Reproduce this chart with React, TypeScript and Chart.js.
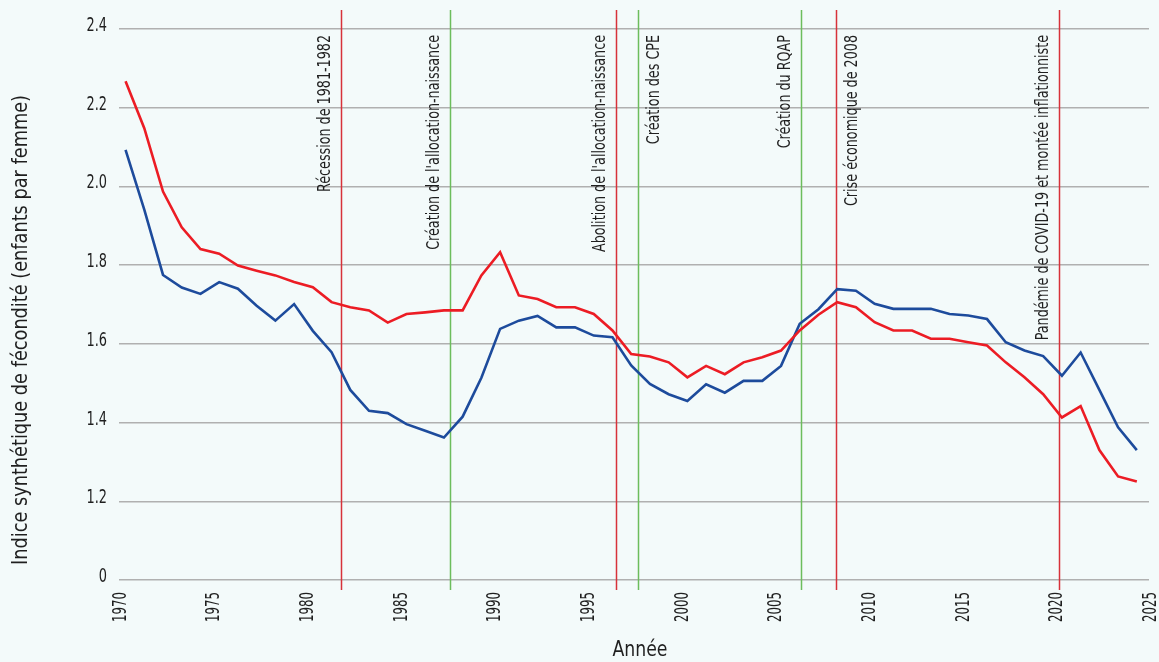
import React, { useEffect, useRef } from 'react';
import { Chart, registerables } from 'chart.js';

Chart.register(...registerables);

// ---- DATA ----
const years = [
  1970, 1971, 1972, 1973, 1974, 1975, 1976, 1977, 1978, 1979,
  1980, 1981, 1982, 1983, 1984, 1985, 1986, 1987, 1988, 1989,
  1990, 1991, 1992, 1993, 1994, 1995, 1996, 1997, 1998, 1999,
  2000, 2001, 2002, 2003, 2004, 2005, 2006, 2007, 2008, 2009,
  2010, 2011, 2012, 2013, 2014, 2015, 2016, 2017, 2018, 2019,
  2020, 2021, 2022, 2023, 2024,
];

const quebec = [
  2.093, 1.941, 1.775, 1.743, 1.727, 1.757, 1.740, 1.697, 1.659, 1.701,
  1.633, 1.579, 1.483, 1.430, 1.424, 1.396, 1.379, 1.362, 1.415, 1.514,
  1.638, 1.659, 1.671, 1.642, 1.642, 1.621, 1.617, 1.545, 1.498, 1.472,
  1.455, 1.497, 1.476, 1.506, 1.506, 1.544, 1.651, 1.688, 1.739, 1.735,
  1.702, 1.689, 1.689, 1.689, 1.676, 1.672, 1.663, 1.604, 1.583, 1.569,
  1.519, 1.578, 1.483, 1.388, 1.330,
];

const canada = [
  2.267, 2.148, 1.987, 1.896, 1.841, 1.829, 1.799, 1.786, 1.774, 1.757,
  1.744, 1.706, 1.693, 1.685, 1.654, 1.676, 1.680, 1.685, 1.685, 1.774,
  1.833, 1.723, 1.714, 1.693, 1.693, 1.676, 1.634, 1.574, 1.568, 1.553,
  1.515, 1.544, 1.523, 1.553, 1.566, 1.583, 1.634, 1.674, 1.706, 1.693,
  1.655, 1.634, 1.634, 1.613, 1.613, 1.604, 1.596, 1.553, 1.515, 1.472,
  1.413, 1.442, 1.330, 1.263, 1.250,
];

const xTickValues = [1970, 1975, 1980, 1985, 1990, 1995, 2000, 2005, 2010, 2015, 2020, 2025];
const yTickValues = [1.0, 1.2, 1.4, 1.6, 1.8, 2.0, 2.2, 2.4];
const yTickLabels = ['0', '1.2', '1.4', '1.6', '1.8', '2.0', '2.2', '2.4'];

const xTitle = 'Année';
const yTitle = 'Indice synthétique de fécondité (enfants par femme)';

const eventPositions = [1981.85, 1987.65, 1996.55, 1997.7, 2006.4, 2008.3, 2020.2];
const eventLabels = [
  'Récession de 1981-1982',
  "Création de l'allocation-naissance",
  "Abolition de l'allocation-naissance",
  'Création des CPE',
  'Création du RQAP',
  'Crise économique de 2008',
  'Pandémie de COVID-19 et montée inflationniste',
];
const eventKinds = ['crise', 'politique', 'crise', 'politique', 'politique', 'crise', 'crise'];

// ---- STYLE ----
const BG = '#f3fafa';
const TEXT = '#1f1f1f';
const RED = '#ec1c24';
const BLUE = '#1d4b9c';
const GRID = '#b0b0b0';
const EVENT_COLORS: Record<string, string> = { crise: '#d7323a', politique: '#6cbd5c' };
const EVENT_SIDES = ['left', 'left', 'left', 'right', 'left', 'right', 'left'];
const POINT_SHIFT = 0.35;
const CAP = 0.714; // cap-height ratio of Noto Sans

type FontFn = (size: number, weight?: number) => string;

// Condensed face selection (the reference uses a narrow grotesque).
function makeFontFn(): FontFn {
  const c = document.createElement('canvas').getContext('2d');
  const probe = 'Récession de 1981-1982';
  const options: FontFn[] = [
    (s, w = 400) => `${w} extra-condensed ${s}px 'Noto Sans', sans-serif`,
    (s, w = 400) => `${w} ${s}px 'Noto Sans ExtraCondensed', 'Noto Sans', sans-serif`,
    (s, w = 400) => `${w} condensed ${s}px 'Noto Sans', sans-serif`,
    (s, w = 400) => `${w} ${s}px 'DejaVu Sans Condensed', 'Noto Sans', sans-serif`,
  ];
  if (!c) return options[3];
  c.font = "40px 'Noto Sans', sans-serif";
  const normal = c.measureText(probe).width;
  for (const fn of options.slice(0, 3)) {
    c.font = fn(40);
    if (c.measureText(probe).width < normal * 0.85) return fn;
  }
  return options[3];
}

// Draws text, squeezed/stretched along its own direction so that `probe`
// at this size would be `probeLen` px long (matches the reference's face).
function drawFitted(
  ctx: CanvasRenderingContext2D,
  font: string,
  text: string,
  probe: string,
  probeLen: number,
  x: number,
  y: number,
  rotate: boolean,
  align: CanvasTextAlign,
) {
  ctx.save();
  ctx.font = font;
  const sx = probeLen / ctx.measureText(probe).width;
  ctx.translate(x, y);
  if (rotate) ctx.rotate(-Math.PI / 2);
  ctx.scale(sx, 1);
  ctx.textAlign = align;
  ctx.textBaseline = 'alphabetic';
  ctx.fillText(text, 0, 0);
  ctx.restore();
}

export default function App() {
  const canvasRef = useRef<HTMLCanvasElement | null>(null);

  useEffect(() => {
    document.body.style.margin = '0';
    document.body.style.background = BG;
    const canvas = canvasRef.current;
    if (!canvas) return;
    const font = makeFontFn();

    const overlayPlugin = {
      id: 'overlay',
      beforeDatasetsDraw(chart: any) {
        const { ctx, chartArea, scales } = chart;
        ctx.save();
        ctx.lineWidth = 1.5;
        eventPositions.forEach((pos, i) => {
          const x = Math.round(scales.x.getPixelForValue(pos)) + 0.5;
          ctx.strokeStyle = EVENT_COLORS[eventKinds[i]];
          ctx.beginPath();
          ctx.moveTo(x, chartArea.top - 19);
          ctx.lineTo(x, chartArea.bottom + 10);
          ctx.stroke();
        });
        ctx.restore();
      },
      afterDraw(chart: any) {
        const { ctx, chartArea, scales } = chart;
        ctx.save();
        ctx.fillStyle = TEXT;

        // y tick labels
        const ySize = 19;
        yTickValues.forEach((v, i) => {
          const y = scales.y.getPixelForValue(v) + 2;
          drawFitted(ctx, font(ySize, 500), yTickLabels[i], '2.4', 20.5, chartArea.left - 12, y, false, 'right');
        });

        // x tick labels (rotated, reading upward)
        const xSize = 19;
        xTickValues.forEach((v) => {
          const x = scales.x.getPixelForValue(v) + (xSize * CAP) / 2;
          drawFitted(ctx, font(xSize, 500), String(v), '1970', 30, x, chartArea.bottom + 12, true, 'right');
        });

        // axis titles
        drawFitted(ctx, font(21), xTitle, xTitle, 55, (chartArea.left + chartArea.right) / 2 + 6, 656, false, 'center');
        drawFitted(ctx, font(22), yTitle, yTitle, 470, 27, 330, true, 'center');

        // event labels
        const eSize = 17;
        eventPositions.forEach((pos, i) => {
          const lx = scales.x.getPixelForValue(pos);
          const x = EVENT_SIDES[i] === 'left' ? lx - 11 : lx + 9 + eSize * CAP;
          drawFitted(ctx, font(eSize), eventLabels[i], eventLabels[0], 157, x, chartArea.top + 6, true, 'right');
        });
        ctx.restore();
      },
    };

    const chart = new Chart(canvas, {
      type: 'line',
      data: {
        datasets: [
          {
            label: 'Canada',
            data: years.map((y, i) => ({ x: y + POINT_SHIFT, y: canada[i] })),
            borderColor: RED,
            backgroundColor: RED,
            borderWidth: 2.6,
            pointRadius: 0,
            tension: 0,
          },
          {
            label: 'Québec',
            data: years.map((y, i) => ({ x: y + POINT_SHIFT, y: quebec[i] })),
            borderColor: BLUE,
            backgroundColor: BLUE,
            borderWidth: 2.6,
            pointRadius: 0,
            tension: 0,
          },
        ],
      },
      options: {
        animation: false,
        responsive: false,
        maintainAspectRatio: false,
        layout: { padding: { top: 29, right: 10, left: 119, bottom: 82 } },
        plugins: {
          legend: { display: false },
          tooltip: { enabled: false },
        },
        scales: {
          x: {
            type: 'linear',
            min: 1970,
            max: 2025,
            afterBuildTicks: (axis: any) => {
              axis.ticks = xTickValues.map((v) => ({ value: v }));
            },
            grid: { display: false, drawTicks: false },
            border: { display: false },
            ticks: { display: false },
            title: { display: false, text: xTitle },
          },
          y: {
            type: 'linear',
            min: 1.0,
            max: 2.4,
            afterBuildTicks: (axis: any) => {
              axis.ticks = yTickValues.map((v) => ({ value: v }));
            },
            grid: { color: GRID, lineWidth: 1.5, drawTicks: false },
            border: { display: false },
            ticks: { display: false },
            title: { display: false, text: yTitle },
          },
        },
      },
      plugins: [overlayPlugin],
    });
    return () => chart.destroy();
  }, []);

  return (
    <div style={{ width: 1159, height: 662, background: BG, overflow: 'hidden' }}>
      <canvas ref={canvasRef} width={1159} height={662} style={{ display: 'block' }} />
    </div>
  );
}
